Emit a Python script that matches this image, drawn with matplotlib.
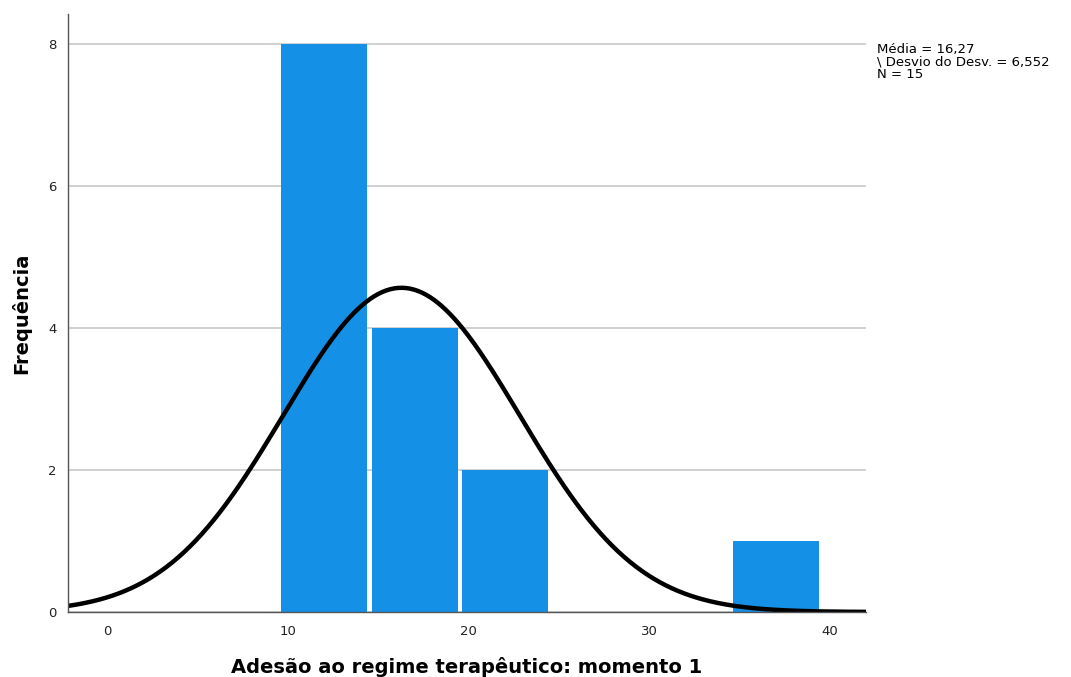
import numpy as np
import matplotlib.pyplot as plt

# histogram bins (width 5) and counts
bin_left = [9.5, 14.5, 19.5, 34.5]
counts = [8, 4, 2, 1]
bin_width = 5

mean = 16.27
sd = 6.552
n = 15

stats_text = "Média = 16,27\n\\ Desvio do Desv. = 6,552\nN = 15"

fig = plt.figure(figsize=(10.71, 6.77), dpi=100)
ax = fig.add_axes([0.0635, 0.096, 0.745, 0.883])

ax.set_axisbelow(True)
ax.yaxis.grid(True, color="#c8c8c8", linewidth=1.2)

gap = 0.12
ax.bar([b + gap for b in bin_left], counts, width=bin_width - 2 * gap,
       align="edge", color="#1490e6", linewidth=0)

xs = np.linspace(-2.2, 42, 400)
pdf = n * bin_width / (sd * np.sqrt(2 * np.pi)) * np.exp(-0.5 * ((xs - mean) / sd) ** 2)
ax.plot(xs, pdf, color="black", linewidth=3.2)

ax.set_xlim(-2.2, 42)
ax.set_ylim(0, 8.42)
ax.set_xticks([0, 10, 20, 30, 40])
ax.set_yticks([0, 2, 4, 6, 8])
ax.tick_params(axis="both", length=0, labelsize=9.5, colors="#222222")
ax.tick_params(axis="x", pad=9)
ax.tick_params(axis="y", pad=8)

for s in ["top", "right"]:
    ax.spines[s].set_visible(False)
for s in ["left", "bottom"]:
    ax.spines[s].set_color("#555555")
    ax.spines[s].set_linewidth(1.0)

ax.set_xlabel("Adesão ao regime terapêutico: momento 1", fontsize=14,
              fontweight="bold", labelpad=14)
ax.set_ylabel("Frequência", fontsize=14, fontweight="bold", labelpad=12)

fig.text(0.819, 0.937, stats_text, fontsize=9.5, va="top", ha="left",
         linespacing=0.95)

fig.savefig("out.png", dpi=100)
